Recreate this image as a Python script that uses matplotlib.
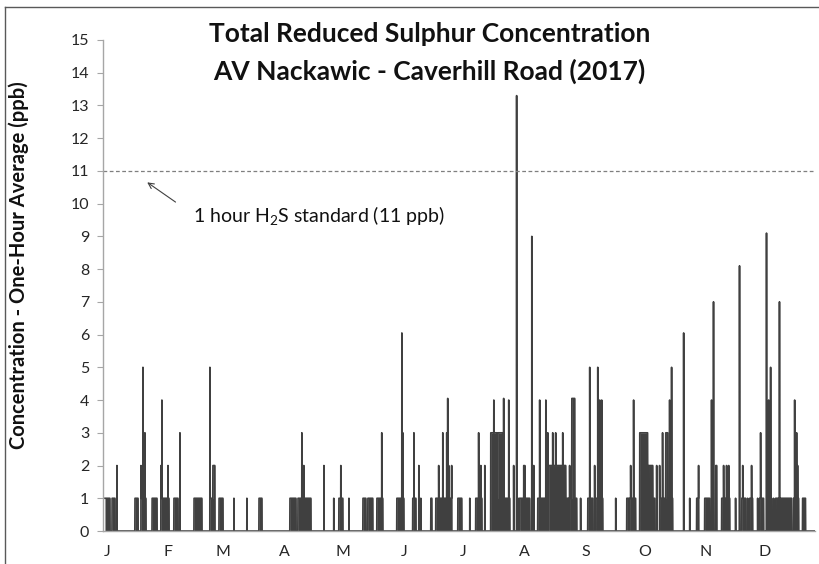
"""Hourly TRS concentration, AV Nackawic - Caverhill Road, 2017."""

import numpy as np
import matplotlib

matplotlib.use("Agg")
import matplotlib.pyplot as plt
from matplotlib.lines import Line2D

seg_start = [
    0.0, 3.6, 6.1, 15.2, 18.3, 18.3, 19.3, 20.3, 23.9, 28.4, 28.4, 28.9, 32.0, 35.0, 38.1,
    45.2, 53.3, 53.3, 54.8, 57.9, 65.5,
    72.1, 78.2, 93.9, 98.0, 100.0, 101.0, 111.2, 116.2, 118.8, 119.8, 123.9, 131.0, 133.5,
    138.1, 140.6,
    148.2, 150.8, 151.3, 156.3, 156.9, 159.4, 160.4, 165.5, 168.0, 169.5, 171.6, 173.6,
    174.1, 174.6, 176.1, 179.2, 185.3, 188.3, 189.8, 190.9, 192.9, 195.9, 195.9, 197.5,
    199.5, 202.5, 205.1, 201.5, 207.6, 209.1, 210.2, 212.7,
    210.7, 213.2, 216.8, 217.8, 219.8, 220.8, 223.9, 224.9, 225.4, 227.4, 228.9, 232.5,
    234.0, 236.0, 237.1, 236.0, 241.6, 245.2, 246.2, 248.7, 250.3, 251.3, 252.3, 249.2,
    259.4, 265.0, 267.0, 268.5, 266.5, 271.6, 271.6, 276.1, 280.2, 281.7, 283.2,
    281.7, 281.7, 283.2, 284.8, 286.8, 287.8, 293.9, 297.0, 300.5, 301.5, 304.6, 308.1,
    309.1, 310.2, 313.2, 314.2, 315.7, 316.8, 320.3, 322.3, 323.4, 323.9, 326.4, 328.4,
    327.4, 331.5, 332.5, 333.0, 336.0, 337.1, 338.1, 336.5, 339.6, 342.6, 340.6, 350.3,
    351.3, 351.8, 349.7, 354.3,
]
seg_end = [
    2.5, 5.1, 6.1, 16.8, 20.8, 18.3, 19.3, 20.3, 26.4, 32.5, 28.4, 28.9, 32.0, 37.1, 38.1,
    49.2, 55.8, 53.3, 55.8, 59.9, 65.5,
    72.1, 79.7, 97.0, 104.6, 100.0, 101.0, 111.2, 116.2, 120.8, 119.8, 123.9, 132.5, 136.0,
    141.1, 140.6,
    151.8, 150.8, 151.3, 157.9, 156.9, 159.4, 160.4, 166.0, 176.1, 169.5, 171.6, 173.6,
    174.1, 174.6, 176.1, 181.2, 185.3, 191.4, 189.8, 190.9, 192.9, 204.1, 199.0, 197.5,
    202.0, 202.5, 205.1, 205.6, 207.6, 209.1, 210.2, 212.7,
    215.7, 213.2, 216.8, 217.8, 223.4, 220.8, 223.9, 224.9, 234.0, 227.4, 228.9, 232.5,
    235.5, 236.0, 238.6, 239.6, 241.6, 247.7, 246.2, 248.7, 250.3, 251.3, 252.3, 252.8,
    259.4, 266.0, 267.0, 268.5, 269.5, 275.6, 279.2, 278.2, 280.2, 283.2, 283.2,
    288.3, 281.7, 283.2, 285.8, 286.8, 287.8, 293.9, 297.0, 301.5, 301.5, 307.1, 308.1,
    309.1, 310.7, 317.3, 314.2, 315.7, 316.8, 320.3, 322.3, 325.4, 323.9, 326.4, 328.4,
    328.9, 331.5, 334.5, 333.0, 336.0, 337.1, 338.1, 338.6, 339.6, 342.6, 348.7, 350.3,
    351.3, 351.8, 352.3, 355.8,
]
seg_ppb = [
    1, 1, 2, 1, 1, 2, 5, 3, 1, 1, 2, 4, 2, 1, 3,
    1, 1, 5, 2, 1, 1,
    1, 1, 1, 1, 3, 2, 2, 1, 1, 2, 1, 1, 1,
    1, 3,
    1, 6.05, 3, 1, 3, 2, 1, 1, 1, 2, 3, 3,
    4.05, 2, 2, 1, 1, 1, 3, 2, 2, 1, 3, 4,
    3, 4.05, 4, 1, 2, 13.3, 1, 2,
    1, 2, 9, 2, 1, 4, 4, 3, 2, 3, 3, 3,
    1, 2, 4.05, 1, 1, 1, 5, 2, 5, 4, 4, 1,
    1, 1, 2, 4, 1, 3, 1, 2, 2, 1, 3,
    1, 2, 3, 3, 4, 5, 6.05, 1, 1, 2, 1, 4,
    7, 2, 1, 2, 2, 2, 1, 8.1, 1, 2, 1, 2,
    1, 1, 1, 3, 9.1, 4, 5, 1, 1, 7, 1, 4,
    3, 2, 1, 1,
]

month_start = [0, 31, 59, 90, 120, 151, 181, 212, 243, 273, 304, 334]
month_labels = ["J", "F", "M", "A", "M", "J", "J", "A", "S", "O", "N", "D"]
standard_ppb = 11

# Hourly series for the year; hours without a reading above zero stay at 0.
hours = np.arange(365 * 24) / 24.0
ppb = np.zeros_like(hours)
for start, end, value in zip(seg_start, seg_end, seg_ppb):
    i0, i1 = int(round(start * 24)), int(round(end * 24))
    ppb[i0:i1 + 1] = np.maximum(ppb[i0:i1 + 1], value)

plt.rcParams["font.family"] = ["Lato", "DejaVu Sans"]

fig = plt.figure(figsize=(8.2, 5.64), dpi=100)
ax = fig.add_axes([0.1256, 0.0585, 0.868, 0.8706])

line_color = "#404040"
ax.fill_between(hours, ppb, color=line_color, lw=0)
ax.plot(hours, ppb, color=line_color, lw=1.2)

ax.axhline(standard_ppb, color="#7f7f7f", lw=0.9, ls=(0, (3, 2)))

ax.set_xlim(-1, 360.5)
ax.set_ylim(0, 15)
ax.set_yticks(range(0, 16))
ax.set_xticks([d + 1 for d in month_start])
ax.set_xticklabels(month_labels)
ax.tick_params(axis="x", length=0, pad=10, labelsize=11.5, labelcolor="#262626")
ax.tick_params(axis="y", length=4, color="#a6a6a6", pad=6, labelsize=11.5,
               labelcolor="#262626")
for side in ("top", "right"):
    ax.spines[side].set_visible(False)
for side in ("left", "bottom"):
    ax.spines[side].set_color("#a6a6a6")
    ax.spines[side].set_linewidth(1.0)

ax.set_ylabel("Concentration - One-Hour Average (ppb)", fontsize=14.5,
              fontweight="bold", color="#111111", va="center")
ax.yaxis.set_label_coords(-0.119, 0.542)

ax.annotate("", xy=(20.3, 10.7), xytext=(37.0, 10.0),
            arrowprops=dict(arrowstyle="->", color="#404040", lw=0.8))
ax.text(44.7, 9.6, "1 hour H$_\\mathregular{2}$S standard (11 ppb)", fontsize=14,
        ha="left", va="center", color="#111111")

fig.text(0.524, 0.940, "Total Reduced Sulphur Concentration", fontsize=19,
         fontweight="bold", ha="center", va="center", color="#111111")
fig.text(0.524, 0.873, "AV Nackawic - Caverhill Road (2017)", fontsize=19,
         fontweight="bold", ha="center", va="center", color="#111111")

# Thin frame along the top and left edges, as in the exported chart.
fig.add_artist(Line2D([0.006, 1.0], [0.988, 0.988], transform=fig.transFigure,
                      color="#595959", lw=1.0))
fig.add_artist(Line2D([0.006, 0.006], [0.0, 0.988], transform=fig.transFigure,
                      color="#595959", lw=1.0))

fig.savefig("out.png", dpi=100)
